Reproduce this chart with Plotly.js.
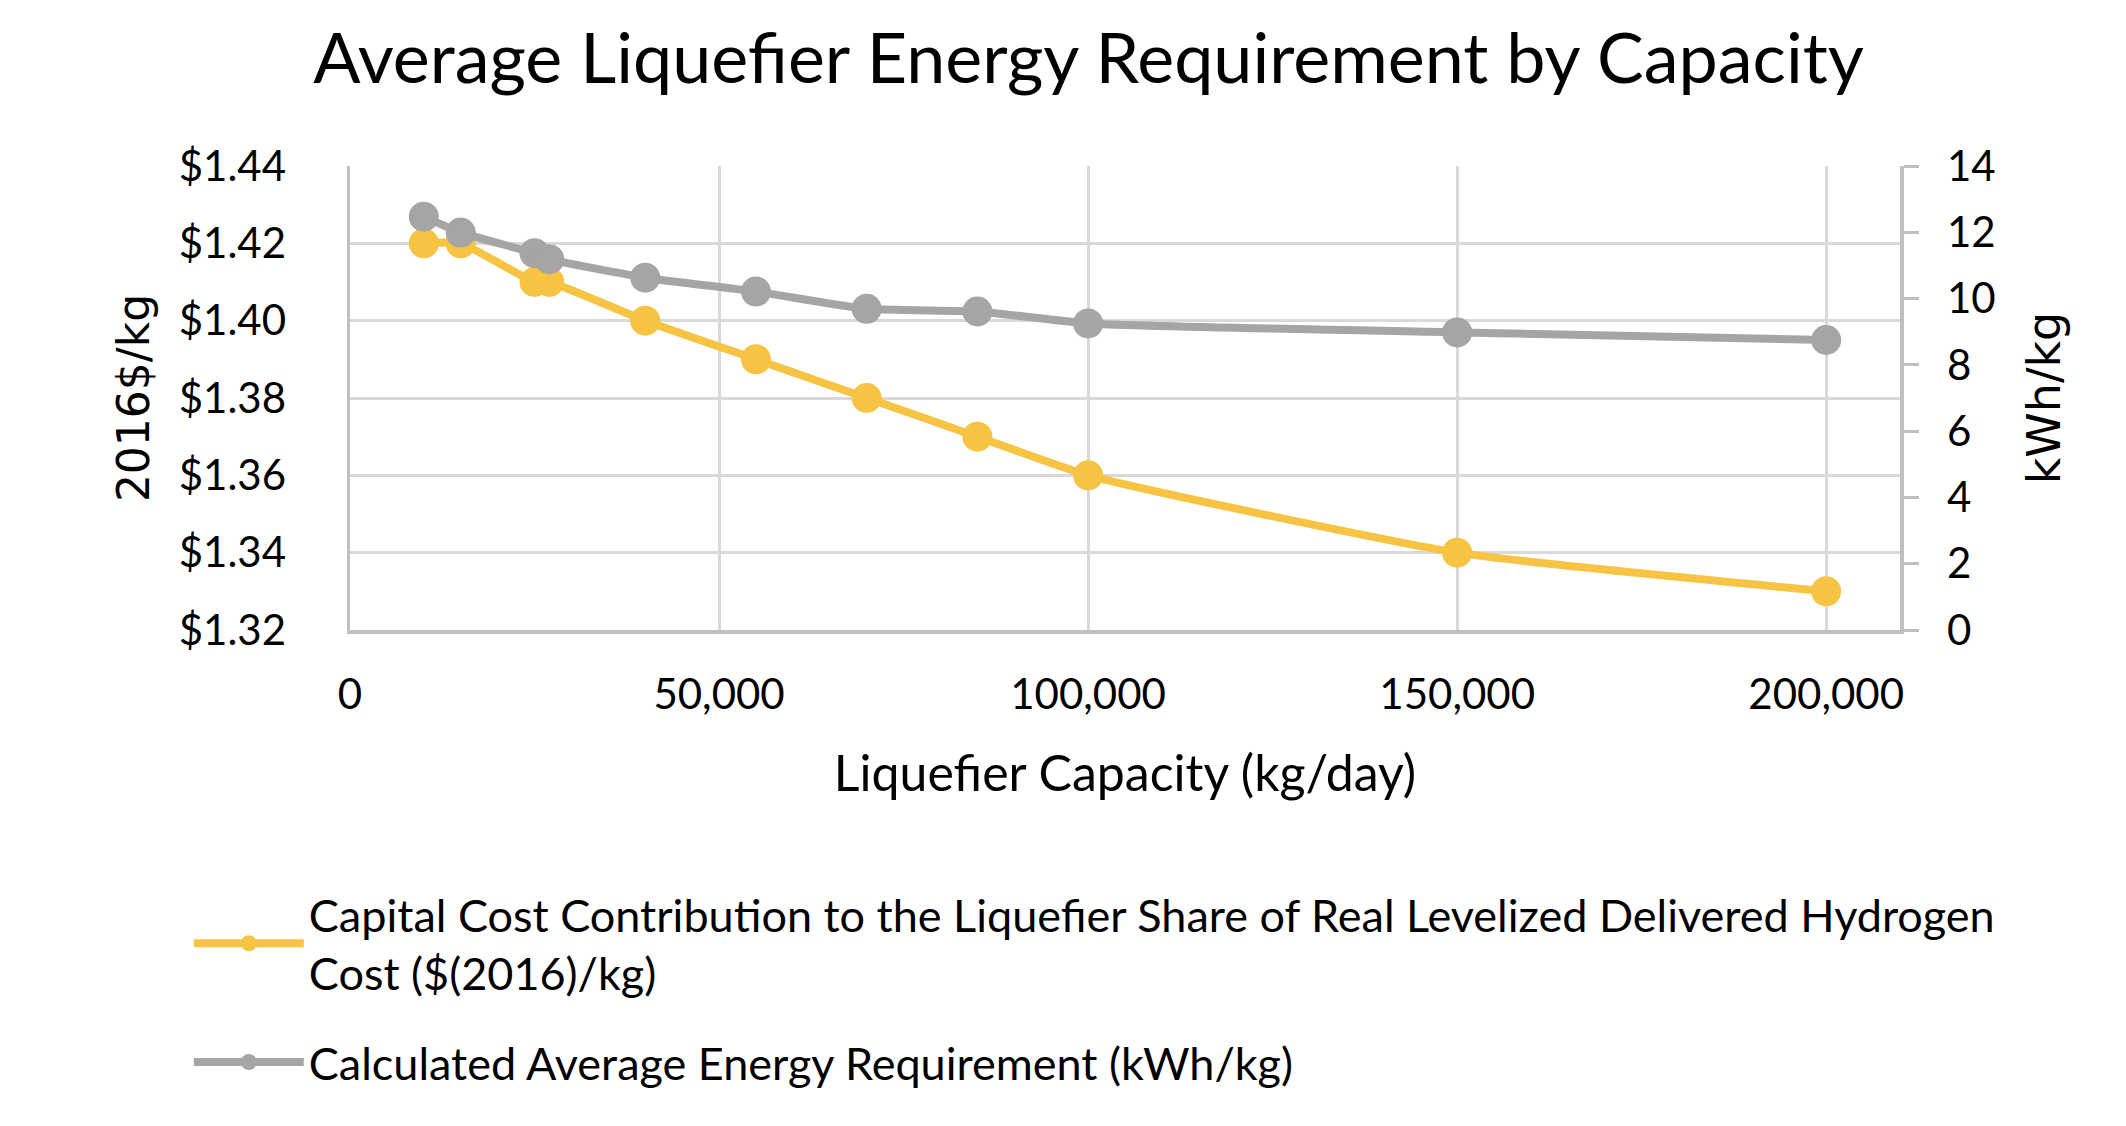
<!DOCTYPE html>
<html>
<head>
<meta charset="utf-8">
<script src="https://cdn.plot.ly/plotly-3.0.1.min.js"></script>
<style>html,body{margin:0;padding:0;background:#fff;}#chart{width:2126px;height:1126px;}</style>
</head>
<body>
<div id="chart"></div>
<script>
// Data
var capacity = [10000, 15000, 25000, 27000, 40000, 55000, 70000, 85000, 100000, 150000, 200000];
var capitalCost = [1.42, 1.42, 1.41, 1.41, 1.40, 1.39, 1.38, 1.37, 1.36, 1.34, 1.33];
var energyReq = [12.47, 11.99, 11.37, 11.19, 10.63, 10.21, 9.69, 9.61, 9.25, 8.98, 8.75];
var xTickVals = [0, 50000, 100000, 150000, 200000];
var xTickText = ['0', '50,000', '100,000', '150,000', '200,000'];
var seriesNames = [
  'Capital Cost Contribution to the Liquefier Share of Real Levelized Delivered Hydrogen<br>Cost ($(2016)/kg)',
  'Calculated Average Energy Requirement (kWh/kg)'
];

var CAL = 'Lato, "Open Sans", sans-serif';
var VER = '"DejaVu Sans", Verdana, sans-serif';
var YELLOW = '#F6C343';
var GRAY = '#A5A5A5';

var traces = [
  {
    x: capacity, y: capitalCost, name: seriesNames[0], type: 'scatter', mode: 'lines+markers',
    yaxis: 'y', legendgroup: 'a',
    line: {color: YELLOW, width: 8, shape: 'spline', smoothing: 0.5},
    marker: {color: YELLOW, size: 30}
  },
  {
    x: capacity, y: energyReq, name: seriesNames[1], type: 'scatter', mode: 'lines+markers',
    yaxis: 'y2', legendgroup: 'b',
    line: {color: GRAY, width: 8, shape: 'spline', smoothing: 0.5},
    marker: {color: GRAY, size: 30}
  }
];

var layout = {
  width: 2126, height: 1126,
  paper_bgcolor: '#fff', plot_bgcolor: '#fff',
  margin: {l: 350, r: 226, t: 166, b: 496, pad: 0},
  font: {family: CAL, color: '#000'},
  title: {
    text: 'Average Liquefier Energy Requirement by Capacity',
    font: {family: CAL, size: 70, color: '#000'},
    xref: 'container', x: 0.512, xanchor: 'center',
    yref: 'container', y: 0.948, yanchor: 'middle'
  },
  xaxis: {
    range: [0, 210000],
    tickvals: xTickVals, ticktext: xTickText,
    showgrid: true, gridcolor: '#D9D9D9', gridwidth: 3,
    showline: true, linecolor: '#BFBFBF', linewidth: 3.5,
    zeroline: false, ticks: '',
    tickfont: {family: CAL, size: 42, color: '#000'},
    ticklabelstandoff: 25,
    title: {text: 'Liquefier Capacity (kg/day)', font: {family: CAL, size: 50, color: '#000'}, standoff: 40}
  },
  yaxis: {
    range: [1.32, 1.44], dtick: 0.02, tick0: 1.32,
    tickprefix: '$', tickformat: '.2f',
    showgrid: true, gridcolor: '#D9D9D9', gridwidth: 3,
    showline: true, linecolor: '#BFBFBF', linewidth: 3.5,
    zeroline: false, ticks: '',
    tickfont: {family: CAL, size: 42, color: '#000'},
    ticklabelstandoff: 52,
    title: {text: '2016$/kg', font: {family: VER, size: 44, color: '#000'}, standoff: 16}
  },
  yaxis2: {
    range: [0, 14], dtick: 2, tick0: 0,
    overlaying: 'y', side: 'right',
    showgrid: false, zeroline: false,
    showline: true, linecolor: '#BFBFBF', linewidth: 3.5,
    ticks: 'outside', ticklen: 15, tickwidth: 3, tickcolor: '#BFBFBF',
    tickfont: {family: CAL, size: 42, color: '#000'},
    ticklabelstandoff: 20,
    title: {text: 'kWh/kg', font: {family: VER, size: 46, color: '#000'}, standoff: 34}
  },
  showlegend: true,
  legend: {
    orientation: 'v',
    x: -0.104, y: -0.535, xanchor: 'left', yanchor: 'top',
    font: {family: CAL, size: 45, color: '#000'},
    bgcolor: 'rgba(0,0,0,0)',
    traceorder: 'grouped', tracegroupgap: 28,
    itemwidth: 110
  }
};

Plotly.newPlot('chart', traces, layout, {staticPlot: true, displayModeBar: false});
</script>
</body>
</html>
